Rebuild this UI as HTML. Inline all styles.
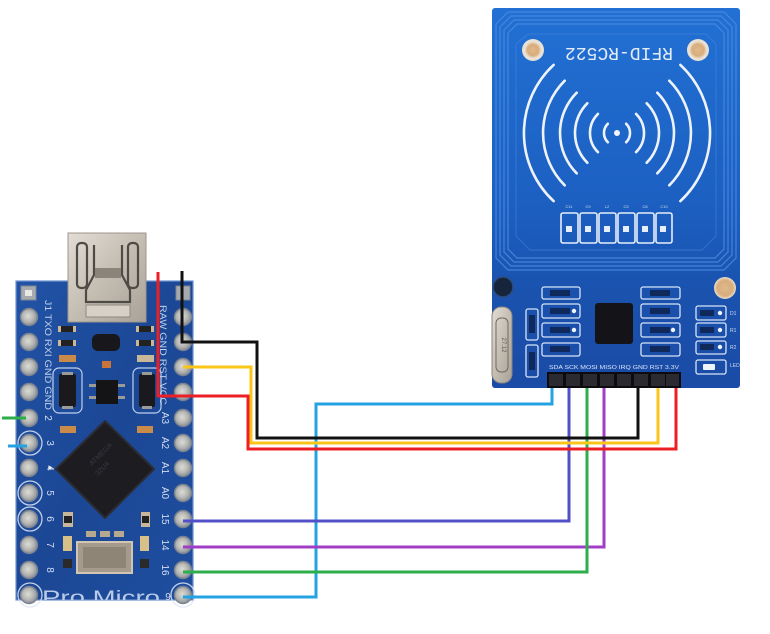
<!DOCTYPE html>
<html><head><meta charset="utf-8">
<style>
html,body{margin:0;padding:0;background:#fff;}
svg{display:block;}
</style></head><body>
<svg width="770" height="634" viewBox="0 0 770 634" xmlns="http://www.w3.org/2000/svg" font-family="Liberation Sans, sans-serif">
<defs>
  <linearGradient id="rfid" x1="0" y1="0" x2="0" y2="1">
    <stop offset="0" stop-color="#2270d4"/>
    <stop offset="0.5" stop-color="#1c60c2"/>
    <stop offset="0.75" stop-color="#1a52ae"/>
    <stop offset="1" stop-color="#1a4ba6"/>
  </linearGradient>
  <linearGradient id="pm" x1="0" y1="0" x2="1" y2="1">
    <stop offset="0" stop-color="#2253a6"/>
    <stop offset="0.5" stop-color="#1b4795"/>
    <stop offset="1" stop-color="#1f4e9f"/>
  </linearGradient>
  <radialGradient id="pin" cx="0.45" cy="0.45" r="0.55">
    <stop offset="0" stop-color="#dcdcd6"/>
    <stop offset="0.55" stop-color="#b9bab6"/>
    <stop offset="1" stop-color="#8a909a"/>
  </radialGradient>
  <radialGradient id="gold" cx="0.5" cy="0.5" r="0.5">
    <stop offset="0" stop-color="#e0b88a"/>
    <stop offset="0.7" stop-color="#d8ad7c"/>
    <stop offset="1" stop-color="#eadccb"/>
  </radialGradient>
  <linearGradient id="silver" x1="0" y1="0" x2="1" y2="1">
    <stop offset="0" stop-color="#e2ddd5"/>
    <stop offset="0.5" stop-color="#c4bdb2"/>
    <stop offset="1" stop-color="#a9a298"/>
  </linearGradient>
  <clipPath id="pmclip"><rect x="16" y="281" width="177" height="319"/></clipPath>
</defs>

<!-- ================= RFID BOARD ================= -->
<rect x="492" y="8" width="248" height="380" rx="3" fill="url(#rfid)"/>
<g fill="none" stroke="#4b8be0" stroke-width="1.2" opacity="0.85">
  <polygon points="508,12 724,12 736,24 736,258 724,270 508,270 496,258 496,24"/>
  <polygon points="511,16 721,16 732,27 732,255 721,266 511,266 500,255 500,27"/>
  <polygon points="514,20 718,20 728,30 728,252 718,262 514,262 504,252 504,30"/>
  <polygon points="517,24 715,24 724,33 724,249 715,258 517,258 508,249 508,33"/>
  <polygon points="528,34 706,34 716,44 716,236 702,250 530,250 516,236 516,44" opacity="0.5"/>
</g>
<circle cx="533" cy="50" r="11" fill="#e9e1d4"/>
<circle cx="533" cy="50" r="8" fill="url(#gold)"/>
<circle cx="698" cy="50" r="11" fill="#e9e1d4"/>
<circle cx="698" cy="50" r="8.5" fill="url(#gold)"/>
<circle cx="725" cy="288" r="11" fill="url(#gold)"/>
<circle cx="503" cy="287" r="10" fill="#16243c"/>
<circle cx="503" cy="287" r="10" fill="none" stroke="#2c4c80" stroke-width="1.5"/>
<text x="0" y="0" transform="translate(619,52) rotate(180)" text-anchor="middle" dominant-baseline="central" font-family="Liberation Mono, monospace" font-size="18" fill="#e4ecf8" textLength="108" lengthAdjust="spacingAndGlyphs">RFID-RC522</text>
<g fill="none" stroke="#eef3fb" stroke-width="2.6" stroke-linecap="round">
  <path d="M607.8 123.8 A13 13 0 0 0 607.8 142.2"/>
  <path d="M626.2 123.8 A13 13 0 0 1 626.2 142.2"/>
  <path d="M597.9 113.9 A27 27 0 0 0 597.9 152.1"/>
  <path d="M636.1 113.9 A27 27 0 0 1 636.1 152.1"/>
  <path d="M587.3 103.3 A42 42 0 0 0 587.3 162.7"/>
  <path d="M646.7 103.3 A42 42 0 0 1 646.7 162.7"/>
  <path d="M576.7 92.7 A57 57 0 0 0 576.7 173.3"/>
  <path d="M657.3 92.7 A57 57 0 0 1 657.3 173.3"/>
  <path d="M564.7 80.7 A74 74 0 0 0 564.7 185.3"/>
  <path d="M669.3 80.7 A74 74 0 0 1 669.3 185.3"/>
  <path d="M553.6 64.9 A93 93 0 0 0 553.6 201.1"/>
  <path d="M680.4 64.9 A93 93 0 0 1 680.4 201.1"/>
</g>
<circle cx="617" cy="133" r="3" fill="#f2f6fc"/>
<g fill="none" stroke="#e6eefa" stroke-width="1.6">
  <rect x="561" y="213" width="17" height="30" rx="2"/>
  <rect x="580" y="213" width="17" height="30" rx="2"/>
  <rect x="599" y="213" width="17" height="30" rx="2"/>
  <rect x="618" y="213" width="17" height="30" rx="2"/>
  <rect x="637" y="213" width="17" height="30" rx="2"/>
  <rect x="656" y="213" width="16" height="30" rx="2"/>
</g>
<g fill="#e6eefa">
  <rect x="566" y="226" width="6" height="6"/><rect x="585" y="226" width="6" height="6"/>
  <rect x="604" y="226" width="6" height="6"/><rect x="623" y="226" width="6" height="6"/>
  <rect x="642" y="226" width="6" height="6"/><rect x="660" y="226" width="6" height="6"/>
</g>
<g font-size="4" fill="#cfdcf2" text-anchor="middle">
  <text x="569" y="208">C11</text><text x="588" y="208">C9</text><text x="607" y="208">L2</text>
  <text x="626" y="208">C5</text><text x="645" y="208">C8</text><text x="664" y="208">C10</text>
</g>
<g fill="none" stroke="#d8e4f6" stroke-width="1.3">
  <rect x="542" y="287" width="38" height="12" rx="2"/>
  <rect x="542" y="304" width="38" height="14" rx="2"/>
  <rect x="542" y="323" width="38" height="14" rx="2"/>
  <rect x="542" y="343" width="38" height="13" rx="2"/>
  <rect x="526" y="309" width="12" height="31" rx="2"/>
  <rect x="526" y="345" width="12" height="32" rx="2"/>
  <rect x="641" y="287" width="39" height="12" rx="2"/>
  <rect x="641" y="304" width="39" height="14" rx="2"/>
  <rect x="641" y="323" width="39" height="14" rx="2"/>
  <rect x="641" y="343" width="39" height="13" rx="2"/>
  <rect x="696" y="306" width="30" height="14" rx="2"/>
  <rect x="696" y="323" width="30" height="14" rx="2"/>
  <rect x="696" y="341" width="30" height="13" rx="2"/>
  <rect x="696" y="360" width="30" height="14" rx="2"/>
</g>
<g fill="#f0f4fb">
  <circle cx="574" cy="311" r="2.2"/><circle cx="574" cy="330" r="2.2"/>
  <circle cx="673" cy="330" r="2.2"/>
  <circle cx="720" cy="313" r="2.2"/><circle cx="720" cy="330" r="2.2"/><circle cx="720" cy="347" r="2.2"/>
  <rect x="703" y="364" width="12" height="6" rx="1"/>
</g>
<g fill="#0f2a5a">
  <rect x="550" y="290" width="20" height="6"/><rect x="550" y="308" width="20" height="6"/>
  <rect x="550" y="327" width="20" height="6"/><rect x="550" y="346" width="20" height="6"/>
  <rect x="650" y="290" width="20" height="6"/><rect x="650" y="308" width="20" height="6"/>
  <rect x="650" y="327" width="20" height="6"/><rect x="650" y="346" width="20" height="6"/>
  <rect x="529" y="315" width="6" height="18"/><rect x="529" y="352" width="6" height="18"/>
  <rect x="700" y="310" width="14" height="6"/><rect x="700" y="327" width="14" height="6"/><rect x="700" y="344" width="14" height="6"/>
</g>
<g fill="#cfdcf2" font-size="5">
  <text x="730" y="315">D1</text><text x="730" y="332">R1</text><text x="730" y="349">R2</text><text x="730" y="367">LED</text>
</g>
<rect x="595" y="303" width="38" height="41" rx="3" fill="#141418"/>
<rect x="492" y="307" width="20" height="76" rx="9" fill="url(#silver)" stroke="#8a857e" stroke-width="1"/>
<rect x="496" y="318" width="12" height="54" rx="5" fill="none" stroke="#6e6961" stroke-width="1"/>
<text x="0" y="0" transform="translate(502,345) rotate(90)" text-anchor="middle" font-size="6" fill="#5c574f">27.12</text>
<text x="549" y="369" font-size="5" fill="#dbe6f6" textLength="130" lengthAdjust="spacingAndGlyphs">SDA  SCK  MOSI  MISO  IRQ  GND  RST  3.3V</text>
<rect x="547" y="372" width="134" height="16" fill="#0c0c10"/>
<g fill="#2a2a30">
  <rect x="549" y="374" width="14" height="12"/><rect x="566" y="374" width="14" height="12"/>
  <rect x="583" y="374" width="14" height="12"/><rect x="600" y="374" width="14" height="12"/>
  <rect x="617" y="374" width="14" height="12"/><rect x="634" y="374" width="14" height="12"/>
  <rect x="651" y="374" width="14" height="12"/><rect x="666" y="374" width="13" height="12"/>
</g>

<!-- ================= PRO MICRO ================= -->
<rect x="16" y="281" width="177" height="319" fill="url(#pm)" stroke="#6f93cf" stroke-width="1.2"/>
<g clip-path="url(#pmclip)">
  <text x="42" y="604" font-size="19" fill="#b9cbe8" textLength="118" lengthAdjust="spacingAndGlyphs">Pro Micro</text>
</g>
<rect x="68" y="233" width="78" height="89" fill="url(#silver)" stroke="#9c958b" stroke-width="1"/>
<g fill="none" stroke="#4e4a45" stroke-width="2.2">
  <rect x="77" y="243" width="10" height="45" rx="4"/>
  <rect x="128" y="243" width="10" height="45" rx="4"/>
  <path d="M94 245 V275 L86 290 V302 H130 V290 L122 275 V245"/>
</g>
<rect x="95" y="268" width="26" height="10" fill="#8a847b"/>
<rect x="86" y="305" width="44" height="12" fill="#d6d0c7" stroke="#8f887e"/>
<g>
  <rect x="21" y="286" width="15" height="14" fill="#a7aaae" stroke="#7d8590"/>
  <rect x="25" y="290" width="7" height="6" fill="#e8e8e4"/>
  <rect x="176" y="286" width="14" height="14" fill="#a7aaae" stroke="#7d8590"/>
</g>
<g fill="url(#pin)" stroke="#7a8290" stroke-width="1.4">
  <circle cx="29" cy="317" r="8.5"/><circle cx="29" cy="342" r="8.5"/><circle cx="29" cy="367" r="8.5"/>
  <circle cx="29" cy="392" r="8.5"/><circle cx="29" cy="418" r="8.5"/><circle cx="29" cy="443" r="8.5"/>
  <circle cx="29" cy="468" r="8.5"/><circle cx="29" cy="493" r="8.5"/><circle cx="29" cy="519" r="8.5"/>
  <circle cx="29" cy="545" r="8.5"/><circle cx="29" cy="570" r="8.5"/><circle cx="29" cy="595" r="8.5"/>
  <circle cx="183" cy="317" r="8.5"/><circle cx="183" cy="342" r="8.5"/><circle cx="183" cy="367" r="8.5"/>
  <circle cx="183" cy="392" r="8.5"/><circle cx="183" cy="418" r="8.5"/><circle cx="183" cy="443" r="8.5"/>
  <circle cx="183" cy="468" r="8.5"/><circle cx="183" cy="493" r="8.5"/><circle cx="183" cy="519" r="8.5"/>
  <circle cx="183" cy="545" r="8.5"/><circle cx="183" cy="570" r="8.5"/><circle cx="183" cy="595" r="8.5"/>
</g>
<g fill="none" stroke="#dfe7f4" stroke-width="1.3" opacity="0.85">
  <circle cx="30" cy="443" r="12"/><circle cx="30" cy="493" r="12"/><circle cx="30" cy="519" r="12"/>
  <circle cx="30" cy="595" r="12"/><circle cx="183" cy="595" r="12"/>
</g>
<text x="0" y="0" transform="translate(45,300) rotate(90)" font-size="9" fill="#c0d0ec" textLength="110" lengthAdjust="spacingAndGlyphs">J1  TXO  RXI  GND  GND</text>
<text x="0" y="0" transform="translate(160,305) rotate(90)" font-size="9" fill="#c0d0ec" textLength="100" lengthAdjust="spacingAndGlyphs">RAW GND RST VCC</text>
<g font-size="10" fill="#d3def2" text-anchor="middle">
  <text x="0" y="0" transform="translate(45,418) rotate(90)">2</text>
  <text x="0" y="0" transform="translate(47,443) rotate(90)">3</text>
  <text x="0" y="0" transform="translate(47,468) rotate(90)">4</text>
  <text x="0" y="0" transform="translate(47,493) rotate(90)">5</text>
  <text x="0" y="0" transform="translate(47,519) rotate(90)">6</text>
  <text x="0" y="0" transform="translate(47,545) rotate(90)">7</text>
  <text x="0" y="0" transform="translate(47,570) rotate(90)">8</text>
  <text x="0" y="0" transform="translate(162,418) rotate(90)">A3</text>
  <text x="0" y="0" transform="translate(162,443) rotate(90)">A2</text>
  <text x="0" y="0" transform="translate(162,468) rotate(90)">A1</text>
  <text x="0" y="0" transform="translate(162,493) rotate(90)">A0</text>
  <text x="0" y="0" transform="translate(162,519) rotate(90)">15</text>
  <text x="0" y="0" transform="translate(162,545) rotate(90)">14</text>
  <text x="0" y="0" transform="translate(162,570) rotate(90)">16</text>
  <text x="168" y="600">9</text>
</g>
<g>
  <rect x="60" y="326" width="14" height="6" fill="#222" /><rect x="58" y="326" width="3" height="6" fill="#c9b79a"/><rect x="73" y="326" width="3" height="6" fill="#c9b79a"/>
  <rect x="60" y="340" width="14" height="6" fill="#222" /><rect x="58" y="340" width="3" height="6" fill="#c9b79a"/><rect x="73" y="340" width="3" height="6" fill="#c9b79a"/>
  <rect x="59" y="355" width="17" height="7" fill="#c98a4a"/>
  <rect x="138" y="326" width="14" height="6" fill="#222" /><rect x="136" y="326" width="3" height="6" fill="#c9b79a"/><rect x="151" y="326" width="3" height="6" fill="#c9b79a"/>
  <rect x="138" y="340" width="14" height="6" fill="#222" /><rect x="136" y="340" width="3" height="6" fill="#c9b79a"/><rect x="151" y="340" width="3" height="6" fill="#c9b79a"/>
  <rect x="137" y="355" width="17" height="7" fill="#c9b79a"/>
  <rect x="92" y="334" width="28" height="17" rx="6" fill="#18181c"/>
  <rect x="102" y="361" width="9" height="7" fill="#c9743a"/>
  <rect x="96" y="380" width="22" height="24" fill="#141416"/>
  <g fill="#9a9a96"><rect x="89" y="384" width="7" height="3"/><rect x="89" y="396" width="7" height="3"/><rect x="118" y="384" width="7" height="3"/><rect x="118" y="396" width="7" height="3"/></g>
</g>
<g fill="none" stroke="#bcd0ee" stroke-width="1.2">
  <rect x="53" y="368" width="29" height="45" rx="6"/>
  <rect x="133" y="368" width="28" height="45" rx="6"/>
</g>
<rect x="59" y="374" width="17" height="33" rx="2" fill="#1a1a1e"/>
<rect x="139" y="374" width="16" height="33" rx="2" fill="#1a1a1e"/>
<g fill="#9a9a96"><rect x="62" y="372" width="11" height="3"/><rect x="62" y="406" width="11" height="3"/><rect x="142" y="372" width="10" height="3"/><rect x="142" y="406" width="10" height="3"/></g>
<rect x="60" y="426" width="16" height="7" fill="#c98a4a"/>
<rect x="137" y="426" width="16" height="7" fill="#c98a4a"/>
<polygon points="105,421 154,469 105,518 56,469" fill="#1c1c21" stroke="#2c2c33" stroke-width="2" stroke-linejoin="round"/>
<g fill="#3a3a42" font-size="7">
  <text x="0" y="0" transform="translate(92,466) rotate(-45)">ATMEGA</text>
  <text x="0" y="0" transform="translate(98,476) rotate(-45)">32U4</text>
</g>
<circle cx="50" cy="468" r="1.6" fill="#f0f0f0"/>
<g>
  <rect x="63" y="512" width="10" height="15" fill="#c9b79a"/><rect x="64" y="516" width="8" height="7" fill="#222"/>
  <rect x="141" y="512" width="9" height="15" fill="#c9b79a"/><rect x="142" y="516" width="7" height="7" fill="#222"/>
  <rect x="63" y="536" width="9" height="15" fill="#d8c089"/>
  <rect x="140" y="536" width="9" height="15" fill="#d8c089"/>
  <rect x="63" y="559" width="9" height="9" fill="#2a2a2a"/>
  <rect x="140" y="559" width="9" height="9" fill="#2a2a2a"/>
  <rect x="86" y="531" width="10" height="6" fill="#b7a98e"/><rect x="100" y="531" width="10" height="6" fill="#b7a98e"/><rect x="114" y="531" width="10" height="6" fill="#b7a98e"/>
</g>
<rect x="77" y="542" width="55" height="31" fill="#a59a8c" stroke="#d1c6b4" stroke-width="2"/>
<rect x="83" y="547" width="43" height="21" fill="#8f8577"/>

<!-- ================= WIRES ================= -->
<g fill="none" stroke-width="3" stroke-linejoin="miter">
  <path d="M552 388 V404 H316 V597 H183" stroke="#24a3e3"/>
  <path d="M569 388 V521 H183" stroke="#5250c8"/>
  <path d="M604 388 V547 H183" stroke="#a23ec6"/>
  <path d="M587 388 V572 H183" stroke="#2cae4a"/>
  <path d="M158 272 V396 H248 V449 H676 V388" stroke="#ec1f24"/>
  <path d="M183 367 H251 V443 H658 V388" stroke="#fbc51a"/>
  <path d="M182 271 V342 H257 V438 H638 V388" stroke="#111111"/>
  <path d="M2 418 H26" stroke="#2cae4a"/>
  <path d="M8 446 H27" stroke="#24a3e3"/>
</g>
</svg>
</body></html>
